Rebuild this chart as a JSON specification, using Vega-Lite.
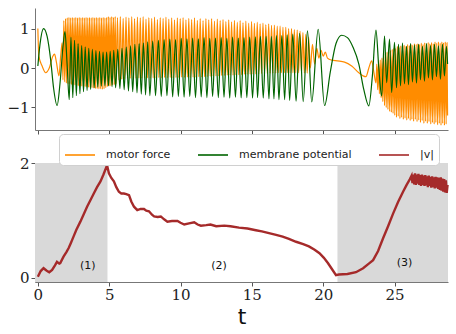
{
"$schema": "https://vega.github.io/schema/vega-lite/v6.json",
"padding": {"left": 5, "top": 8, "right": 5, "bottom": 5},
"background": "white",
"config": {
  "view": {"stroke": null},
  "axis": {"domainColor": "#777", "tickColor": "#555", "grid": false, "labelFont": "Liberation Serif", "labelFontSize": 16, "labelColor": "#222", "tickSize": 4, "labelPadding": 2, "titleFont": "DejaVu Sans", "titleFontWeight": "normal", "titleColor": "#111"},
  "legend": {"fillColor": "white", "strokeColor": "#d0d0d0", "cornerRadius": 4, "padding": 5, "labelFont": "DejaVu Sans", "labelFontSize": 11, "labelColor": "#222", "symbolType": "stroke", "symbolSize": 900, "symbolStrokeWidth": 1.6, "columnPadding": 23, "labelOffset": 10}
},
"datasets": {
  "membrane": [
    {"t":0,"v":0.05},{"t":0.15,"v":0.6},{"t":0.4,"v":1.0},{"t":0.65,"v":0.8},{"t":0.9,"v":0.2},{"t":1.1,"v":-0.5},{"t":1.35,"v":-0.95},{"t":1.55,"v":-0.4},{"t":1.75,"v":0.5},{"t":1.9,"v":0.92},{"t":2.05,"v":0.1},{"t":2.2,"v":-0.8},
    {"t":2.32,"v":0.78},{"t":2.45,"v":-0.75},{"t":2.57,"v":0.7},{"t":2.7,"v":-0.7},{"t":2.82,"v":0.62},{"t":2.95,"v":-0.65},{"t":3.07,"v":0.57},{"t":3.2,"v":-0.6},{"t":3.32,"v":0.53},{"t":3.45,"v":-0.57},{"t":3.57,"v":0.5},{"t":3.7,"v":-0.54},{"t":3.82,"v":0.47},{"t":3.95,"v":-0.5},{"t":4.07,"v":0.44},{"t":4.2,"v":-0.48},{"t":4.32,"v":0.42},{"t":4.45,"v":-0.46},{"t":4.57,"v":0.4},{"t":4.7,"v":-0.45},{"t":4.82,"v":0.4},{"t":4.95,"v":-0.45},{"t":5.07,"v":0.42},{"t":5.2,"v":-0.47},{"t":5.32,"v":0.45},{"t":5.45,"v":-0.5},
    {"t":5.6,"v":0.47},{"t":5.75,"v":-0.52},{"t":5.9,"v":0.5},{"t":6.05,"v":-0.55},{"t":6.2,"v":0.53},{"t":6.35,"v":-0.58},{"t":6.5,"v":0.56},{"t":6.65,"v":-0.6},{"t":6.8,"v":0.6},{"t":6.95,"v":-0.63},{"t":7.1,"v":0.62},{"t":7.25,"v":-0.66},{"t":7.4,"v":0.64},{"t":7.55,"v":-0.68},{"t":7.7,"v":0.66},{"t":7.85,"v":-0.7},
    {"t":8.05,"v":0.68},{"t":8.25,"v":-0.7},{"t":8.45,"v":0.7},{"t":8.65,"v":-0.72},{"t":8.85,"v":0.72},{"t":9.05,"v":-0.7},{"t":9.25,"v":0.73},{"t":9.45,"v":-0.73},{"t":9.65,"v":0.72},{"t":9.85,"v":-0.72},{"t":10.05,"v":0.75},{"t":10.25,"v":-0.74},{"t":10.45,"v":0.74},{"t":10.65,"v":-0.72},{"t":10.85,"v":0.76},{"t":11.05,"v":-0.75},{"t":11.25,"v":0.74},{"t":11.45,"v":-0.73},{"t":11.65,"v":0.77},{"t":11.85,"v":-0.75},{"t":12.05,"v":0.75},{"t":12.25,"v":-0.72},{"t":12.45,"v":0.76},{"t":12.65,"v":-0.75},{"t":12.85,"v":0.77},{"t":13.05,"v":-0.74},{"t":13.25,"v":0.75},{"t":13.45,"v":-0.76},{"t":13.65,"v":0.78},{"t":13.85,"v":-0.74},{"t":14.05,"v":0.76},{"t":14.25,"v":-0.76},{"t":14.45,"v":0.77},{"t":14.65,"v":-0.75},{"t":14.85,"v":0.78},{"t":15.05,"v":-0.76},{"t":15.25,"v":0.79},
    {"t":15.4,"v":-0.75},{"t":15.6,"v":0.8},{"t":15.8,"v":-0.76},{"t":16.0,"v":0.8},{"t":16.2,"v":-0.78},{"t":16.37,"v":0.8},{"t":16.55,"v":-0.78},{"t":16.72,"v":0.82},{"t":16.9,"v":-0.8},{"t":17.1,"v":0.82},{"t":17.3,"v":-0.8},{"t":17.48,"v":0.84},{"t":17.65,"v":-0.82},{"t":17.87,"v":0.86},{"t":18.1,"v":-0.84},{"t":18.35,"v":0.88},{"t":18.6,"v":-0.85},{"t":18.9,"v":0.94},{"t":19.2,"v":-0.86},{"t":19.65,"v":0.98},{"t":20.1,"v":-0.95},
    {"t":20.5,"v":-0.1},{"t":20.9,"v":0.62},{"t":21.3,"v":0.83},{"t":21.7,"v":0.77},{"t":22.1,"v":0.52},{"t":22.5,"v":0.1},{"t":22.85,"v":-0.55},{"t":23.2,"v":-0.96},{"t":23.45,"v":-0.2},{"t":23.7,"v":0.96},{"t":23.9,"v":0.0},{"t":24.1,"v":-0.71},{"t":24.3,"v":0.81},{"t":24.45,"v":-0.37},{"t":24.65,"v":0.73},{"t":24.8,"v":-0.62},
    {"t":25.0,"v":0.65},{"t":25.14,"v":-0.5},{"t":25.28,"v":0.6},{"t":25.42,"v":-0.45},{"t":25.56,"v":0.63},{"t":25.7,"v":-0.4},{"t":25.84,"v":0.55},{"t":25.98,"v":-0.42},{"t":26.12,"v":0.62},{"t":26.26,"v":-0.35},{"t":26.4,"v":0.58},{"t":26.54,"v":-0.38},{"t":26.68,"v":0.6},{"t":26.82,"v":-0.3},{"t":26.96,"v":0.55},{"t":27.1,"v":-0.33},{"t":27.24,"v":0.62},{"t":27.38,"v":-0.25},{"t":27.52,"v":0.57},{"t":27.66,"v":-0.3},{"t":27.8,"v":0.6},{"t":27.94,"v":-0.22},{"t":28.08,"v":0.56},{"t":28.22,"v":-0.28},{"t":28.36,"v":0.6},{"t":28.5,"v":-0.2},{"t":28.64,"v":0.55},{"t":28.72,"v":0.1}
  ],
  "motor": [
    {"t":0,"v":1.0},{"t":0.07,"v":0.3},{"t":0.3,"v":0.05},{"t":0.55,"v":-0.12},{"t":0.8,"v":0.0},{"t":1.05,"v":0.3},{"t":1.17,"v":0.35},{"t":1.3,"v":0.15},{"t":1.48,"v":-0.2},{"t":1.6,"v":0.3},{"t":1.7,"v":0.64},
    {"t":1.76,"v":-0.3},{"t":1.82,"v":1.2},{"t":1.88,"v":-0.35},{"t":1.94,"v":1.25},{"t":2.0,"v":-0.38},{"t":2.06,"v":1.27},{"t":2.12,"v":-0.4},{"t":2.18,"v":1.28},{"t":2.24,"v":-0.4},{"t":2.3,"v":1.27},{"t":2.36,"v":-0.42},{"t":2.42,"v":1.28},{"t":2.48,"v":-0.42},{"t":2.54,"v":1.27},{"t":2.6,"v":-0.43},{"t":2.66,"v":1.28},{"t":2.72,"v":-0.44},{"t":2.78,"v":1.27},{"t":2.84,"v":-0.45},{"t":2.9,"v":1.28},{"t":2.96,"v":-0.45},{"t":3.02,"v":1.27},{"t":3.08,"v":-0.46},{"t":3.14,"v":1.28},{"t":3.2,"v":-0.47},{"t":3.26,"v":1.27},{"t":3.32,"v":-0.47},{"t":3.38,"v":1.28},{"t":3.44,"v":-0.48},{"t":3.5,"v":1.27},{"t":3.56,"v":-0.49},{"t":3.62,"v":1.28},{"t":3.68,"v":-0.5},{"t":3.74,"v":1.27},{"t":3.8,"v":-0.5},{"t":3.86,"v":1.28},{"t":3.92,"v":-0.51},{"t":3.98,"v":1.27},{"t":4.04,"v":-0.52},{"t":4.1,"v":1.28},{"t":4.16,"v":-0.52},{"t":4.22,"v":1.27},{"t":4.28,"v":-0.53},{"t":4.34,"v":1.28},{"t":4.4,"v":-0.53},{"t":4.46,"v":1.27},{"t":4.52,"v":-0.54},{"t":4.58,"v":1.28},{"t":4.64,"v":-0.53},{"t":4.7,"v":1.27},{"t":4.76,"v":-0.5},{"t":4.82,"v":1.28},{"t":4.88,"v":-0.47},{"t":4.94,"v":1.3},{"t":5.0,"v":-0.45},{"t":5.06,"v":1.28},{"t":5.12,"v":-0.45},{"t":5.18,"v":1.3},{"t":5.24,"v":-0.43},{"t":5.3,"v":1.28},{"t":5.36,"v":-0.42},{"t":5.42,"v":1.3},{"t":5.48,"v":-0.4},
    {"t":5.58,"v":1.28},{"t":5.68,"v":-0.3},{"t":5.78,"v":1.3},{"t":5.88,"v":-0.28},{"t":5.98,"v":1.26},{"t":6.08,"v":-0.27},{"t":6.18,"v":1.29},{"t":6.28,"v":-0.26},{"t":6.38,"v":1.27},{"t":6.48,"v":-0.26},{"t":6.58,"v":1.3},{"t":6.68,"v":-0.25},{"t":6.78,"v":1.25},{"t":6.88,"v":-0.26},{"t":6.98,"v":1.29},{"t":7.08,"v":-0.25},{"t":7.18,"v":1.27},{"t":7.28,"v":-0.26},{"t":7.38,"v":1.3},{"t":7.48,"v":-0.25},{"t":7.58,"v":1.24},{"t":7.68,"v":-0.25},{"t":7.78,"v":1.28},{"t":7.88,"v":-0.26},{"t":7.98,"v":1.26},{"t":8.08,"v":-0.25},{"t":8.18,"v":1.29},{"t":8.28,"v":-0.25},{"t":8.38,"v":1.23},{"t":8.48,"v":-0.24},{"t":8.58,"v":1.28},{"t":8.68,"v":-0.25},{"t":8.78,"v":1.26},{"t":8.88,"v":-0.24},{"t":8.98,"v":1.29},{"t":9.08,"v":-0.25},{"t":9.18,"v":1.24},{"t":9.28,"v":-0.24},{"t":9.38,"v":1.27},{"t":9.48,"v":-0.25},{"t":9.58,"v":1.22},{"t":9.68,"v":-0.24},{"t":9.78,"v":1.27},{"t":9.88,"v":-0.24},{"t":9.98,"v":1.25},{"t":10.08,"v":-0.23},{"t":10.18,"v":1.28},{"t":10.28,"v":-0.24},{"t":10.38,"v":1.22},{"t":10.48,"v":-0.23},{"t":10.58,"v":1.26},{"t":10.68,"v":-0.24},{"t":10.78,"v":1.23},{"t":10.88,"v":-0.23},{"t":10.98,"v":1.27},{"t":11.08,"v":-0.23},{"t":11.18,"v":1.21},{"t":11.28,"v":-0.22},{"t":11.38,"v":1.25},{"t":11.48,"v":-0.23},{"t":11.58,"v":1.2},{"t":11.68,"v":-0.22},{"t":11.78,"v":1.25},{"t":11.88,"v":-0.22},{"t":11.98,"v":1.22},{"t":12.08,"v":-0.21},{"t":12.18,"v":1.25},{"t":12.28,"v":-0.2},{"t":12.38,"v":1.19},{"t":12.48,"v":-0.2},{"t":12.58,"v":1.24},{"t":12.68,"v":-0.2},{"t":12.78,"v":1.2},{"t":12.88,"v":-0.19},{"t":12.98,"v":1.23},{"t":13.08,"v":-0.19},{"t":13.18,"v":1.18},{"t":13.28,"v":-0.18},{"t":13.38,"v":1.22},{"t":13.48,"v":-0.18},{"t":13.58,"v":1.17},{"t":13.68,"v":-0.18},{"t":13.78,"v":1.21},{"t":13.88,"v":-0.17},{"t":13.98,"v":1.16},{"t":14.08,"v":-0.17},{"t":14.18,"v":1.2},{"t":14.28,"v":-0.17},{"t":14.38,"v":1.15},{"t":14.48,"v":-0.16},{"t":14.58,"v":1.19},{"t":14.68,"v":-0.16},{"t":14.78,"v":1.14},{"t":14.88,"v":-0.16},{"t":14.98,"v":1.18},{"t":15.08,"v":-0.15},{"t":15.18,"v":1.13},{"t":15.28,"v":-0.15},{"t":15.38,"v":1.16},{"t":15.48,"v":-0.15},{"t":15.58,"v":1.12},{"t":15.68,"v":-0.14},{"t":15.78,"v":1.14},{"t":15.88,"v":-0.14},{"t":15.98,"v":1.1},{"t":16.08,"v":-0.14},{"t":16.18,"v":1.12},{"t":16.28,"v":-0.13},{"t":16.38,"v":1.08},{"t":16.48,"v":-0.13},{"t":16.58,"v":1.09},{"t":16.68,"v":-0.13},{"t":16.78,"v":1.06},{"t":16.88,"v":-0.12},{"t":16.98,"v":1.06},{"t":17.08,"v":-0.12},{"t":17.18,"v":1.03},{"t":17.28,"v":-0.12},{"t":17.38,"v":1.03},{"t":17.48,"v":-0.12},{"t":17.58,"v":1.0},{"t":17.68,"v":-0.12},{"t":17.78,"v":1.0},{"t":17.88,"v":-0.12},{"t":17.98,"v":0.97},{"t":18.08,"v":-0.12},{"t":18.18,"v":0.96},{"t":18.28,"v":-0.12},{"t":18.38,"v":0.93},{"t":18.48,"v":-0.13},{"t":18.58,"v":0.9},{"t":18.68,"v":-0.13},{"t":18.78,"v":0.85},{"t":18.88,"v":-0.13},{"t":18.98,"v":0.78},
    {"t":19.1,"v":0.0},{"t":19.25,"v":0.6},{"t":19.4,"v":0.1},{"t":19.55,"v":0.5},{"t":19.7,"v":0.25},{"t":19.85,"v":0.45},{"t":20.0,"v":0.3},{"t":20.15,"v":0.4},{"t":20.3,"v":0.25},{"t":20.6,"v":0.2},{"t":21.0,"v":0.18},{"t":21.5,"v":0.15},{"t":22.0,"v":0.05},{"t":22.5,"v":-0.12},{"t":22.8,"v":-0.2},{"t":23.0,"v":-0.22},{"t":23.2,"v":0.0},{"t":23.4,"v":0.18},{"t":23.55,"v":-0.1},{"t":23.7,"v":-0.38},
    {"t":23.76,"v":0.1},{"t":23.82,"v":-0.55},{"t":23.88,"v":0.15},{"t":23.94,"v":-0.65},{"t":24.0,"v":0.2},{"t":24.06,"v":-0.75},{"t":24.12,"v":0.25},{"t":24.18,"v":-0.85},{"t":24.24,"v":0.3},{"t":24.3,"v":-0.95},{"t":24.36,"v":0.35},{"t":24.42,"v":-1.0},{"t":24.48,"v":0.4},{"t":24.54,"v":-1.05},{"t":24.6,"v":0.42},{"t":24.66,"v":-1.1},{"t":24.72,"v":0.45},{"t":24.78,"v":-1.12},{"t":24.84,"v":0.47},{"t":24.9,"v":-1.15},{"t":24.96,"v":0.5},{"t":25.02,"v":-1.2},{"t":25.08,"v":0.5},{"t":25.14,"v":-1.25},{"t":25.2,"v":0.55},{"t":25.26,"v":-1.22},{"t":25.32,"v":0.52},{"t":25.38,"v":-1.28},{"t":25.44,"v":0.56},{"t":25.5,"v":-1.25},{"t":25.56,"v":0.55},{"t":25.62,"v":-1.3},{"t":25.68,"v":0.58},{"t":25.74,"v":-1.27},{"t":25.8,"v":0.55},{"t":25.86,"v":-1.32},{"t":25.92,"v":0.6},{"t":25.98,"v":-1.28},{"t":26.04,"v":0.57},{"t":26.1,"v":-1.33},{"t":26.16,"v":0.6},{"t":26.22,"v":-1.3},{"t":26.28,"v":0.58},{"t":26.34,"v":-1.35},{"t":26.4,"v":0.62},{"t":26.46,"v":-1.3},{"t":26.52,"v":0.6},{"t":26.58,"v":-1.36},{"t":26.64,"v":0.62},{"t":26.7,"v":-1.32},{"t":26.76,"v":0.6},{"t":26.82,"v":-1.38},{"t":26.88,"v":0.63},{"t":26.94,"v":-1.33},{"t":27.0,"v":0.6},{"t":27.06,"v":-1.4},{"t":27.12,"v":0.64},{"t":27.18,"v":-1.35},{"t":27.24,"v":0.6},{"t":27.3,"v":-1.4},{"t":27.36,"v":0.65},{"t":27.42,"v":-1.36},{"t":27.48,"v":0.62},{"t":27.54,"v":-1.42},{"t":27.6,"v":0.65},{"t":27.66,"v":-1.38},{"t":27.72,"v":0.62},{"t":27.78,"v":-1.42},{"t":27.84,"v":0.66},{"t":27.9,"v":-1.38},{"t":27.96,"v":0.63},{"t":28.02,"v":-1.44},{"t":28.08,"v":0.66},{"t":28.14,"v":-1.4},{"t":28.2,"v":0.63},{"t":28.26,"v":-1.45},{"t":28.32,"v":0.66},{"t":28.38,"v":-1.4},{"t":28.44,"v":0.64},{"t":28.5,"v":-1.45},{"t":28.56,"v":0.66},{"t":28.62,"v":-1.42},{"t":28.68,"v":0.64},{"t":28.72,"v":-1.2}
  ],
  "speed": [
    {"t":0,"v":0.02},{"t":0.2,"v":0.12},{"t":0.4,"v":0.17},{"t":0.6,"v":0.13},{"t":0.8,"v":0.1},{"t":1.0,"v":0.14},{"t":1.2,"v":0.22},{"t":1.34,"v":0.28},{"t":1.5,"v":0.25},{"t":1.57,"v":0.26},{"t":1.8,"v":0.37},{"t":2.0,"v":0.45},{"t":2.16,"v":0.52},{"t":2.3,"v":0.6},{"t":2.5,"v":0.72},{"t":2.7,"v":0.84},{"t":2.98,"v":0.98},{"t":3.2,"v":1.1},{"t":3.45,"v":1.24},{"t":3.7,"v":1.36},{"t":3.92,"v":1.47},{"t":4.15,"v":1.58},{"t":4.39,"v":1.68},{"t":4.6,"v":1.8},{"t":4.85,"v":1.96},
    {"t":4.98,"v":1.82},{"t":5.15,"v":1.74},{"t":5.33,"v":1.68},{"t":5.5,"v":1.58},{"t":5.68,"v":1.5},{"t":5.85,"v":1.47},{"t":6.03,"v":1.47},{"t":6.2,"v":1.46},{"t":6.39,"v":1.44},{"t":6.55,"v":1.33},{"t":6.74,"v":1.24},{"t":6.97,"v":1.18},{"t":7.2,"v":1.2},{"t":7.44,"v":1.2},{"t":7.6,"v":1.17},{"t":7.79,"v":1.16},{"t":8.0,"v":1.1},{"t":8.15,"v":1.07},{"t":8.4,"v":1.06},{"t":8.62,"v":1.07},{"t":8.85,"v":1.02},{"t":9.08,"v":0.98},{"t":9.4,"v":0.99},{"t":9.79,"v":0.99},{"t":10.0,"v":0.96},{"t":10.26,"v":0.93},{"t":10.6,"v":0.95},{"t":10.96,"v":0.97},{"t":11.2,"v":0.93},{"t":11.43,"v":0.91},{"t":11.8,"v":0.92},{"t":12.1,"v":0.93},{"t":12.5,"v":0.9},{"t":13.07,"v":0.91},{"t":13.5,"v":0.9},{"t":14.1,"v":0.875},{"t":14.7,"v":0.86},{"t":15.28,"v":0.83},{"t":15.7,"v":0.81},{"t":16.2,"v":0.78},{"t":16.7,"v":0.75},{"t":17.16,"v":0.72},{"t":17.6,"v":0.68},{"t":18.1,"v":0.63},{"t":18.6,"v":0.59},{"t":19.0,"v":0.55},{"t":19.4,"v":0.49},{"t":19.74,"v":0.43},{"t":20.05,"v":0.35},{"t":20.33,"v":0.26},{"t":20.6,"v":0.16},{"t":20.9,"v":0.05},
    {"t":21.1,"v":0.06},{"t":21.7,"v":0.07},{"t":22.3,"v":0.1},{"t":22.8,"v":0.17},{"t":23.2,"v":0.25},{"t":23.5,"v":0.31},{"t":23.85,"v":0.47},{"t":24.2,"v":0.69},{"t":24.55,"v":0.9},{"t":24.9,"v":1.12},{"t":25.25,"v":1.32},{"t":25.6,"v":1.5},{"t":25.85,"v":1.62},{"t":26.08,"v":1.72},{"t":26.2,"v":1.78},
    {"t":26.26,"v":1.65},{"t":26.32,"v":1.8},{"t":26.38,"v":1.63},{"t":26.44,"v":1.82},{"t":26.5,"v":1.62},{"t":26.56,"v":1.8},{"t":26.62,"v":1.64},{"t":26.68,"v":1.81},{"t":26.74,"v":1.62},{"t":26.8,"v":1.79},{"t":26.86,"v":1.6},{"t":26.92,"v":1.8},{"t":26.98,"v":1.62},{"t":27.04,"v":1.78},{"t":27.1,"v":1.6},{"t":27.16,"v":1.79},{"t":27.22,"v":1.61},{"t":27.28,"v":1.77},{"t":27.34,"v":1.58},{"t":27.4,"v":1.78},{"t":27.46,"v":1.6},{"t":27.52,"v":1.76},{"t":27.58,"v":1.57},{"t":27.64,"v":1.77},{"t":27.7,"v":1.58},{"t":27.76,"v":1.75},{"t":27.82,"v":1.56},{"t":27.88,"v":1.76},{"t":27.94,"v":1.57},{"t":28.0,"v":1.75},{"t":28.06,"v":1.55},{"t":28.12,"v":1.74},{"t":28.18,"v":1.53},{"t":28.24,"v":1.75},{"t":28.3,"v":1.52},{"t":28.36,"v":1.73},{"t":28.42,"v":1.5},{"t":28.48,"v":1.72},{"t":28.54,"v":1.49},{"t":28.6,"v":1.7},{"t":28.66,"v":1.48},{"t":28.72,"v":1.62}
  ],
  "shade": [{"a":-0.2,"b":4.88},{"a":21.0,"b":28.75}],
  "phases": [{"t":3.5,"v":0.2,"label":"(1)"},{"t":12.7,"v":0.2,"label":"(2)"},{"t":25.7,"v":0.26,"label":"(3)"}]
},
"vconcat": [
  {
    "width": 413, "height": 122,
    "layer": [
      {"data": {"name": "motor"}, "mark": {"type": "line", "strokeWidth": 1.2, "interpolate": "monotone"},
       "encoding": {
         "x": {"field": "t", "type": "quantitative", "scale": {"domain": [-0.2, 28.75], "nice": false, "zero": false}, "axis": {"values": [0,5,10,15,20,25], "labels": false, "title": null}},
         "y": {"field": "v", "type": "quantitative", "scale": {"domain": [-1.57, 1.52], "nice": false, "zero": false}, "axis": {"values": [-1,0,1], "format": "d", "title": null, "minExtent": 30, "maxExtent": 30, "labelFont": "DejaVu Serif", "labelFontSize": 15}},
         "color": {"datum": "motor force", "type": "nominal", "scale": {"domain": ["motor force","membrane potential","|v|"], "range": ["#ff8c00","#006400","#a52a2a"]}, "legend": {"orient": "none", "direction": "horizontal", "legendX": 24, "legendY": 126, "title": null}}
       }},
      {"data": {"name": "membrane"}, "mark": {"type": "line", "strokeWidth": 1.2, "interpolate": "monotone"},
       "encoding": {
         "x": {"field": "t", "type": "quantitative"},
         "y": {"field": "v", "type": "quantitative"},
         "color": {"datum": "membrane potential", "type": "nominal"}
       }}
    ]
  },
  {
    "width": 413, "height": 119,
    "layer": [
      {"data": {"name": "shade"}, "mark": {"type": "rect", "color": "#d9d9d9"},
       "encoding": {
         "x": {"field": "a", "type": "quantitative", "scale": {"domain": [-0.2, 28.75], "nice": false, "zero": false}, "axis": {"values": [0,5,10,15,20,25], "format": "d", "title": "t", "titleFontSize": 22, "titlePadding": 4, "labelFont": "DejaVu Serif", "labelFontSize": 15, "labelPadding": 1}},
         "x2": {"field": "b"}
       }},
      {"data": {"name": "speed"}, "mark": {"type": "line", "strokeWidth": 2.4},
       "encoding": {
         "x": {"field": "t", "type": "quantitative"},
         "y": {"field": "v", "type": "quantitative", "scale": {"domain": [-0.07, 2.0], "nice": false, "zero": false}, "axis": {"values": [0,1,2], "format": "d", "title": null, "minExtent": 30, "maxExtent": 30, "labelFont": "DejaVu Serif", "labelFontSize": 15}},
         "color": {"datum": "|v|", "type": "nominal"}
       }},
      {"data": {"name": "phases"}, "mark": {"type": "text", "font": "DejaVu Sans", "fontSize": 11, "color": "#111"},
       "encoding": {
         "x": {"field": "t", "type": "quantitative"},
         "y": {"field": "v", "type": "quantitative"},
         "text": {"field": "label"}
       }}
    ]
  }
],
"spacing": 33,
"bounds": "flush"
}
